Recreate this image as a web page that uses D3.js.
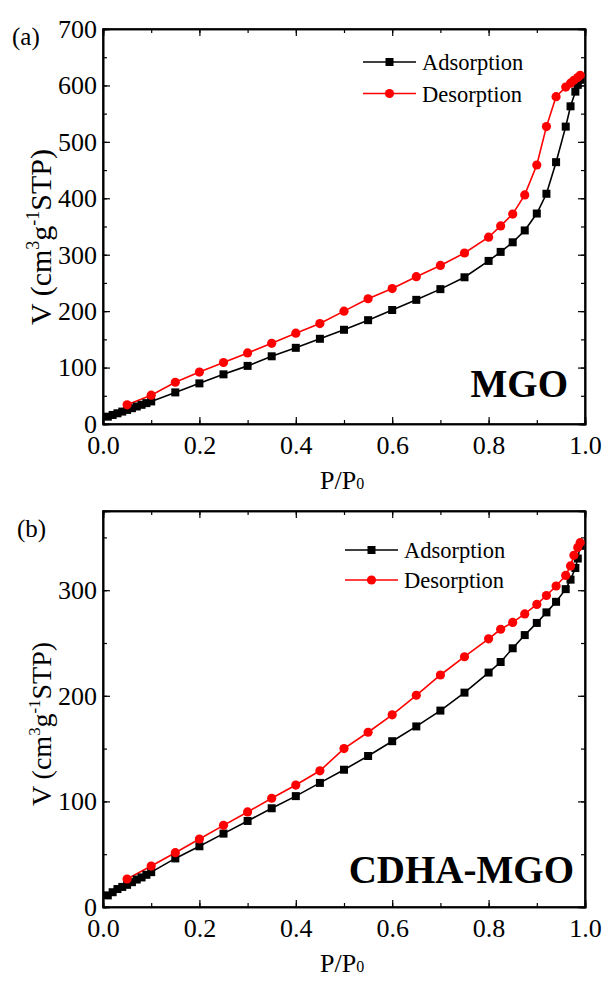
<!DOCTYPE html>
<html lang="en">
<head>
    <meta charset="UTF-8">
    <title>N2 isotherms</title>
    <style>
        body { margin: 0; background: #fff; }
        svg text { font-family: "Liberation Serif", "Times New Roman", serif; fill: #000; }
    </style>
    <script src="https://d3js.org/d3.v7.min.js"></script>
</head>
<body>
<div id="chart"></div>
<script>
    // relative pressure points
    const adsP = [0.01, 0.02, 0.03, 0.04, 0.05, 0.06, 0.07, 0.08, 0.09, 0.1, 0.15, 0.2, 0.25, 0.3, 0.35, 0.4, 0.45,
        0.5, 0.55, 0.6, 0.65, 0.7, 0.75, 0.8, 0.825, 0.85, 0.875, 0.9, 0.92, 0.94, 0.96, 0.97, 0.98, 0.985, 0.99];
    const desP = [0.99, 0.985, 0.977, 0.97, 0.96, 0.94, 0.92, 0.9, 0.875, 0.85, 0.825, 0.8, 0.75, 0.7, 0.65, 0.6,
        0.55, 0.5, 0.45, 0.4, 0.35, 0.3, 0.25, 0.2, 0.15, 0.1, 0.05];

    // (a) MGO
    const mgoAds = [13, 16, 19, 22, 25, 28, 31, 34, 37, 40, 56, 72, 88, 103, 120, 135, 151,
        167, 184, 202, 220, 239, 260, 289, 305, 322, 343, 373, 408, 464, 527, 563, 589, 601, 610];
    const mgoDes = [618, 614, 609, 604, 597, 580, 527, 459, 406, 372, 351, 331, 303, 281, 261, 240,
        222, 200, 178, 161, 143, 126, 109, 92, 74, 51, 34];

    // (b) CDHA-MGO
    const cdhaAds = [11, 14, 17, 19, 21, 23.5, 26, 28, 30.5, 33, 46, 57.5, 69.5, 81.5, 93.5, 105, 117.5,
        130, 143, 157, 171, 186, 203, 222, 232, 245, 257.5, 269, 279, 289, 301, 310, 321, 330, 342];
    const cdhaDes = [345, 340.5, 333, 323, 314, 304, 295, 286.5, 277.5, 269.5, 263, 254, 237, 219.7, 200.5, 182,
        165.5, 150, 129, 115.5, 103, 90, 77.3, 64.4, 51.4, 38.8, 26.5];

    const seriesNames = ["Adsorption", "Desorption"];
    const seriesColors = ["#000000", "#ff0000"];
    const xTicks = [0, 0.2, 0.4, 0.6, 0.8, 1.0];

    const W = 606, H = 983;
    const svg = d3.select("#chart").append("svg")
        .attr("width", W).attr("height", H);

    function drawPanel(cfg) {
        const left = 103, right = 585;
        const x = d3.scaleLinear().domain([0, 1]).range([left, right]);
        const y = d3.scaleLinear().domain([0, cfg.yMax]).range([cfg.bottom, cfg.top]);
        const g = svg.append("g");

        const minorX = d3.range(0, 1.0001, 0.1);
        const majorY = d3.range(0, cfg.yMax + 1, 100);
        const minorY = d3.range(0, cfg.yMax + 1, 50);

        // bottom axis
        g.append("g").attr("transform", `translate(0,${cfg.bottom})`)
            .call(d3.axisBottom(x).tickValues(minorX).tickSize(-4).tickFormat(""));
        g.append("g").attr("class", "lab").attr("transform", `translate(0,${cfg.bottom})`)
            .call(d3.axisBottom(x).tickValues(xTicks).tickSize(-7).tickPadding(12).tickFormat(d3.format(".1f")));
        // top axis
        g.append("g").attr("transform", `translate(0,${cfg.top})`)
            .call(d3.axisTop(x).tickValues(minorX).tickSize(-4).tickFormat(""));
        g.append("g").attr("transform", `translate(0,${cfg.top})`)
            .call(d3.axisTop(x).tickValues(xTicks).tickSize(-7).tickFormat(""));
        // left axis
        g.append("g").attr("transform", `translate(${left},0)`)
            .call(d3.axisLeft(y).tickValues(minorY).tickSize(-4).tickFormat(""));
        g.append("g").attr("class", "lab").attr("transform", `translate(${left},0)`)
            .call(d3.axisLeft(y).tickValues(majorY).tickSize(-7).tickPadding(6).tickFormat(d3.format("d")));
        // right axis
        g.append("g").attr("transform", `translate(${right},0)`)
            .call(d3.axisRight(y).tickValues(minorY).tickSize(-4).tickFormat(""));
        g.append("g").attr("transform", `translate(${right},0)`)
            .call(d3.axisRight(y).tickValues(majorY).tickSize(-7).tickFormat(""));

        g.selectAll(".domain").attr("stroke", "#000").attr("stroke-width", 1.6);
        g.selectAll(".tick line").attr("stroke", "#000").attr("stroke-width", 1.2);
        g.selectAll(".lab text")
            .style("font-family", "'Liberation Serif', serif")
            .style("font-size", "26px");

        // frame
        g.append("rect")
            .attr("x", left).attr("y", cfg.top)
            .attr("width", right - left).attr("height", cfg.bottom - cfg.top)
            .attr("fill", "none").attr("stroke", "#000").attr("stroke-width", 1.6);

        const line = d3.line().x(d => x(d[0])).y(d => y(d[1]));
        const ads = adsP.map((p, i) => [p, cfg.ads[i]]);
        const des = desP.map((p, i) => [p, cfg.des[i]]);

        g.append("path").datum(ads).attr("d", line)
            .attr("fill", "none").attr("stroke", seriesColors[0]).attr("stroke-width", 1.6);
        g.append("path").datum(des).attr("d", line)
            .attr("fill", "none").attr("stroke", seriesColors[1]).attr("stroke-width", 1.6);

        g.selectAll(".sq").data(ads).enter().append("rect")
            .attr("x", d => x(d[0]) - 4).attr("y", d => y(d[1]) - 4)
            .attr("width", 8).attr("height", 8).attr("fill", seriesColors[0]);
        g.selectAll(".ci").data(des).enter().append("circle")
            .attr("cx", d => x(d[0])).attr("cy", d => y(d[1]))
            .attr("r", 4.6).attr("fill", seriesColors[1]);

        // legend
        const leg = g.append("g");
        seriesNames.forEach((name, i) => {
            const ly = cfg.legY + i * cfg.legGap;
            leg.append("line")
                .attr("x1", cfg.legX).attr("x2", cfg.legX + 53)
                .attr("y1", ly).attr("y2", ly)
                .attr("stroke", seriesColors[i]).attr("stroke-width", 1.6);
            if (i === 0) {
                leg.append("rect").attr("x", cfg.legX + 26.5 - 4).attr("y", ly - 4)
                    .attr("width", 8).attr("height", 8).attr("fill", seriesColors[i]);
            } else {
                leg.append("circle").attr("cx", cfg.legX + 26.5).attr("cy", ly)
                    .attr("r", 4.6).attr("fill", seriesColors[i]);
            }
            leg.append("text")
                .attr("x", cfg.legX + 59).attr("y", ly + 8)
                .style("font-size", "22.5px")
                .text(name);
        });

        // sample name
        g.append("text")
            .attr("x", cfg.nameX).attr("y", cfg.nameY)
            .attr("text-anchor", "end")
            .style("font-size", "39px").style("font-weight", "bold")
            .text(cfg.name);

        // panel letter
        g.append("text")
            .attr("x", cfg.letterX).attr("y", cfg.letterY)
            .style("font-size", "25px")
            .text(cfg.letter);

        // x label
        const xl = g.append("text")
            .attr("x", 320).attr("y", cfg.bottom + 65)
            .style("font-size", "26px");
        xl.append("tspan").text("P/P");
        xl.append("tspan").style("font-size", "16px").text("0");

        // y label (superscripts raised by a fixed pixel offset)
        const up = Math.round(cfg.yLabSize * 0.4);
        const yl = g.append("text")
            .attr("transform", `translate(51,${cfg.yLabC}) rotate(-90)`)
            .attr("text-anchor", "middle")
            .style("font-size", cfg.yLabSize + "px");
        yl.append("tspan").text("V (cm");
        yl.append("tspan").attr("dy", -up).style("font-size", (cfg.yLabSize * 0.6) + "px").text("3");
        yl.append("tspan").attr("dy", up).text("g");
        yl.append("tspan").attr("dy", -up).style("font-size", (cfg.yLabSize * 0.6) + "px").text("-1");
        yl.append("tspan").attr("dy", up).text("STP)");
    }

    drawPanel({
        top: 29, bottom: 424, yMax: 700,
        ads: mgoAds, des: mgoDes,
        legX: 363, legY: 62, legGap: 31.5,
        name: "MGO", nameX: 568, nameY: 397,
        letter: "(a)", letterX: 12, letterY: 45,
        yLabC: 237, yLabSize: 30
    });

    drawPanel({
        top: 511, bottom: 907, yMax: 375,
        ads: cdhaAds, des: cdhaDes,
        legX: 345, legY: 550, legGap: 30,
        name: "CDHA-MGO", nameX: 574, nameY: 883,
        letter: "(b)", letterX: 17, letterY: 537,
        yLabC: 724, yLabSize: 28
    });
</script>
</body>
</html>
